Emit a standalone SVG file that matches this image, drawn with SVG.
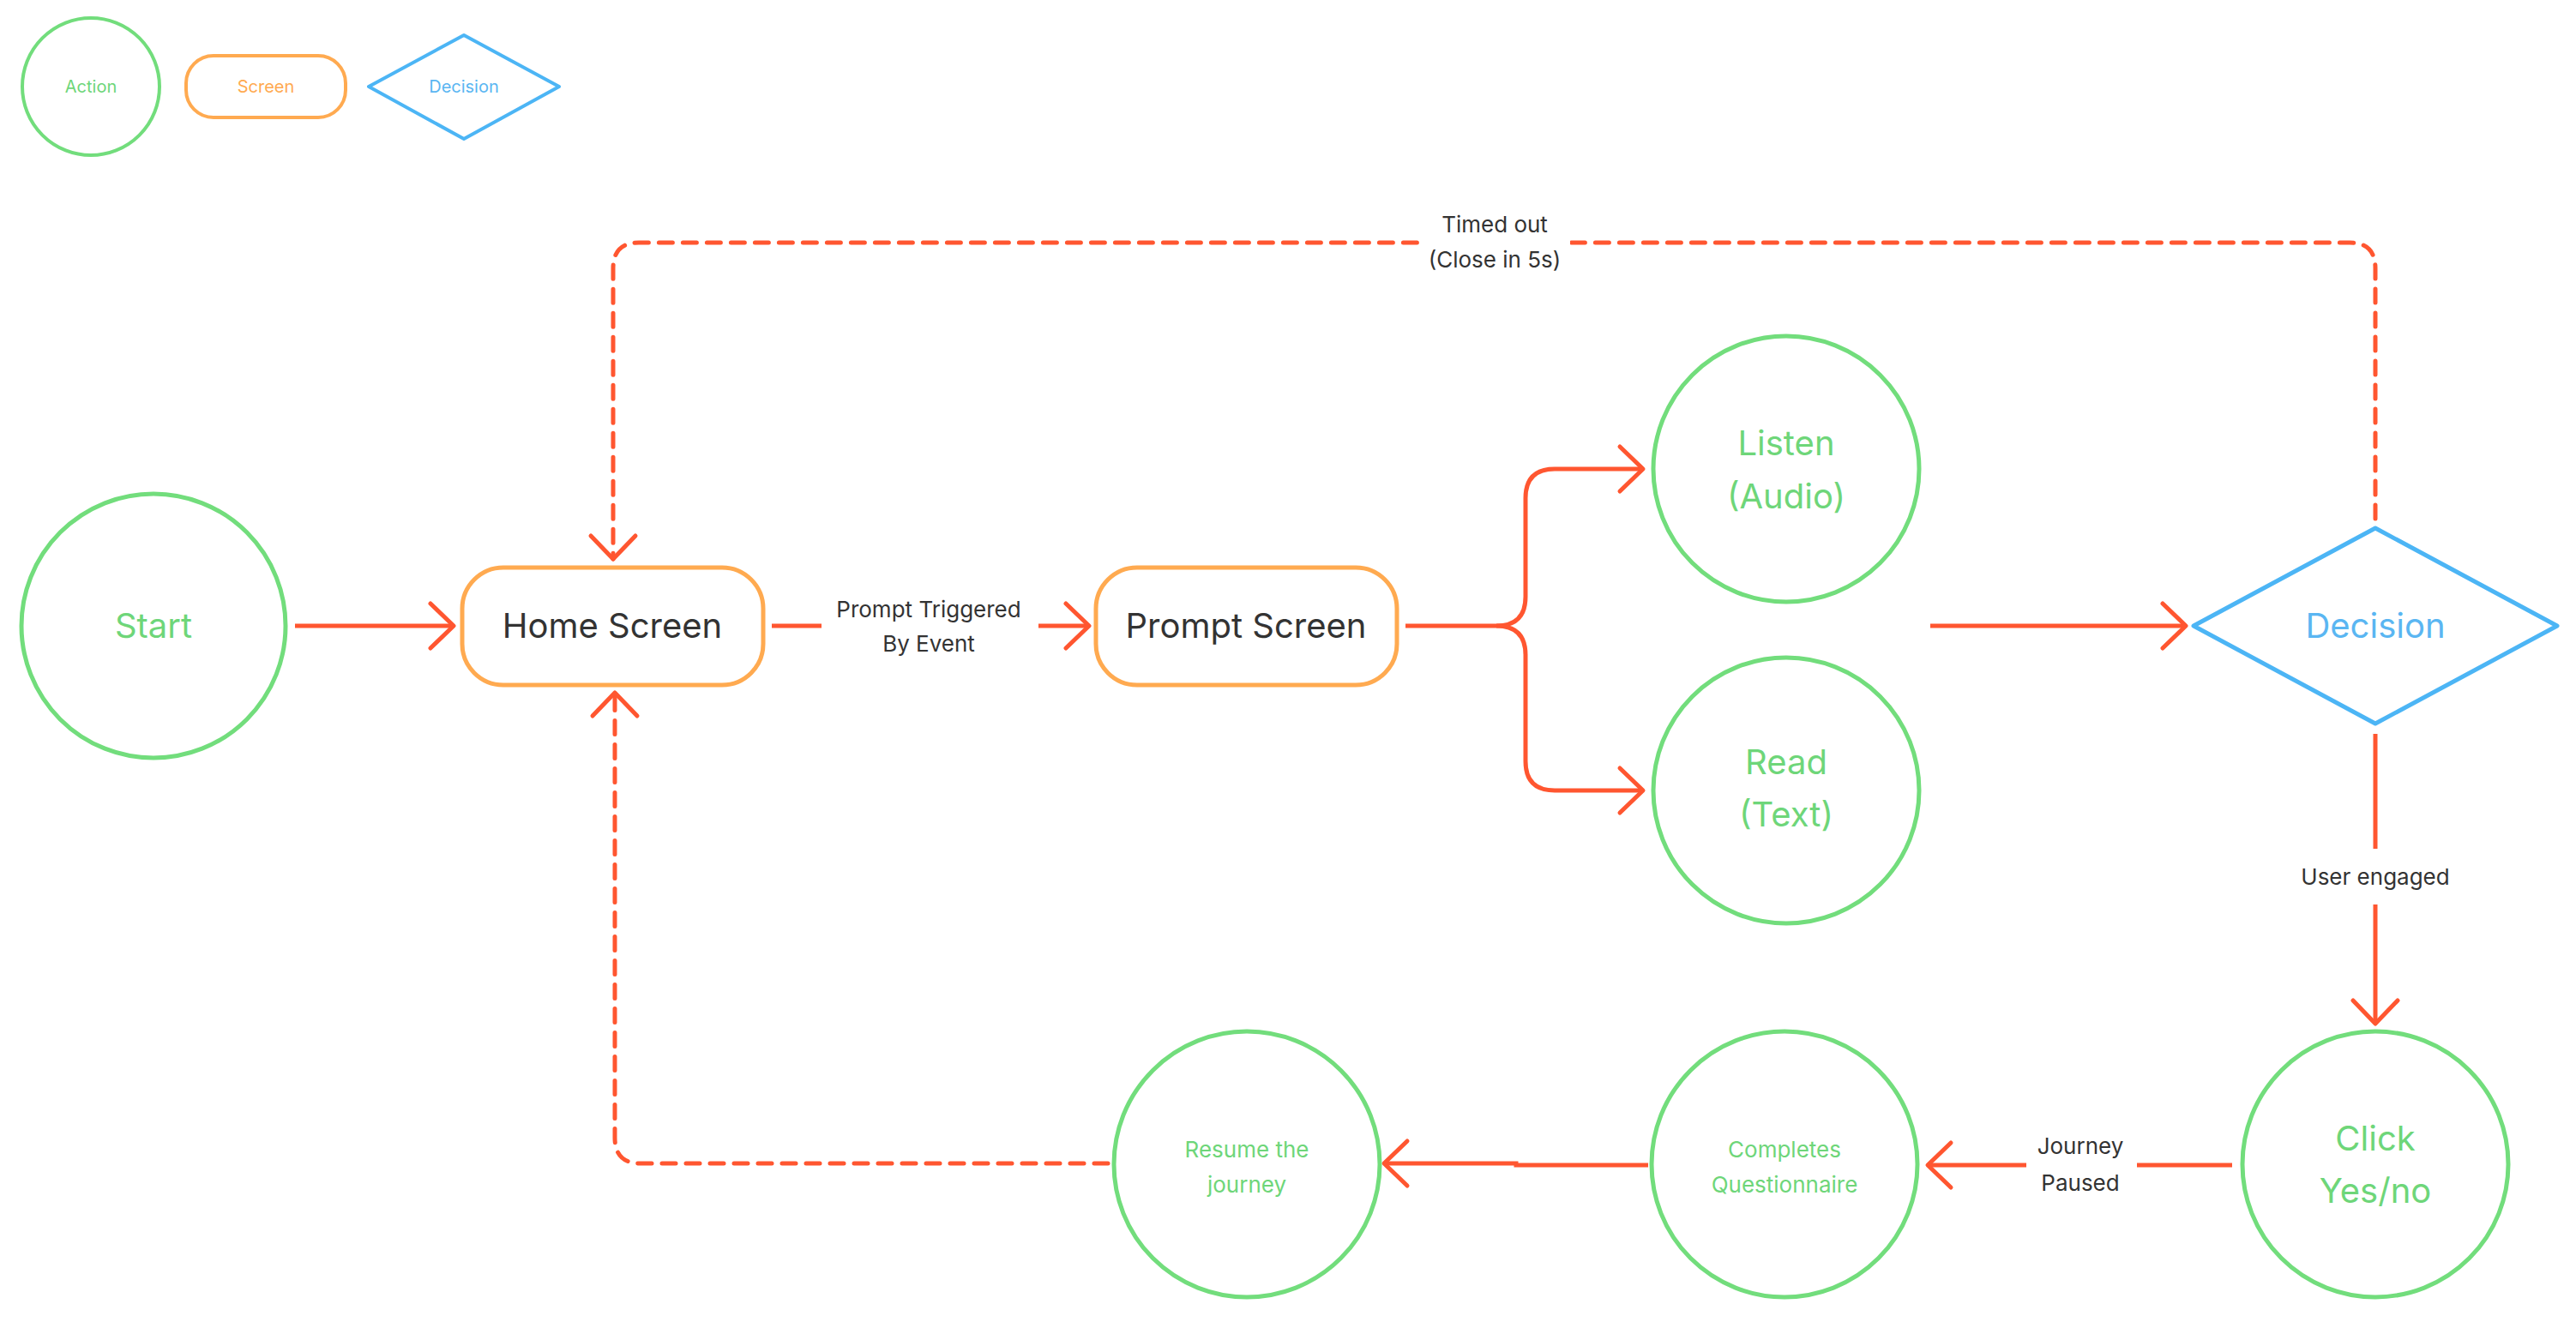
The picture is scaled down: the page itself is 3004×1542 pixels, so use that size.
<svg xmlns="http://www.w3.org/2000/svg" width="3004" height="1542" viewBox="0 0 3004 1542">
<style>
.bg{fill:#ffffff}
.act{fill:#ffffff;stroke:#72DD7C;stroke-width:5}
.scr{fill:#ffffff;stroke:#FFAA50;stroke-width:5}
.dec{fill:#ffffff;stroke:#4CB5F5;stroke-width:5;stroke-linejoin:round}
.t{font-family:Inter,"Liberation Sans",sans-serif;text-anchor:middle}
.tg{fill:#6ED679}
.to{fill:#FFAA50}
.tb{fill:#5AB6F2}
.td{fill:#333333}
.big{font-size:40px}
.sm{font-size:26px}
.lg{font-size:20px}
.lbl{font-size:26px;fill:#333333}
.c{fill:none;stroke:#FF5630;stroke-width:5}
.dash{stroke-dasharray:16 12;stroke-linecap:round}
.lbg{fill:#ffffff}
</style>
<defs>
<marker id="arr" markerUnits="userSpaceOnUse" viewBox="0 0 40 60" markerWidth="40" markerHeight="60" refX="31" refY="30" orient="auto">
<path d="M4,4 L31,30 L4,56" fill="none" stroke="#FF5630" stroke-width="5" stroke-linecap="round" stroke-linejoin="round"/>
</marker>
</defs>
<rect class="bg" x="0" y="0" width="3004" height="1542"/>

<g id="legend">
<g id="legend-action">
<circle class="act" cx="106" cy="101" r="80" style="stroke-width:4"/>
<text class="t tg lg" x="106" y="108">Action</text>
</g>
<g id="legend-screen">
<rect class="scr" x="217" y="65" width="186" height="72" rx="32" style="stroke-width:4"/>
<text class="t to lg" x="310" y="108">Screen</text>
</g>
<g id="legend-decision">
<polygon class="dec" points="430,101 541,41 652,101 541,162" style="stroke-width:4"/>
<text class="t tb lg" x="541" y="108">Decision</text>
</g>
</g>

<g id="connectors">
<path class="c" d="M344 730 H529" marker-end="url(#arr)"/>
<path class="c" d="M900 730 H958"/>
<path class="c" d="M1211 730 H1270" marker-end="url(#arr)"/>
<path class="c" d="M1639 730 H1745 Q1779 730 1779 696 V581 Q1779 547 1813 547 H1916" marker-end="url(#arr)"/>
<path class="c" d="M1745 730 Q1779 730 1779 764 V888 Q1779 922 1813 922 H1916" marker-end="url(#arr)"/>
<path class="c" d="M2251 730 H2549" marker-end="url(#arr)"/>
<path class="c dash" d="M2770 605 V313 Q2770 283 2740 283 H745 Q715 283 715 313 V652" marker-end="url(#arr)"/>
<path class="c" d="M2770 856 V990"/>
<path class="c" d="M2770 1055 V1194" marker-end="url(#arr)"/>
<path class="c" d="M2603 1359 H2492"/>
<path class="c" d="M2363 1359 H2248" marker-end="url(#arr)"/>
<path class="c" d="M1922 1359 H1768 V1357 H1614" marker-end="url(#arr)"/>
<path class="c dash" d="M1292 1357 H747 Q717 1357 717 1327 V808" marker-end="url(#arr)"/>
<g id="labels">
<rect class="lbg" x="1655" y="274" width="176" height="18"/>
<text class="t lbl" x="1743" y="271">Timed out</text>
<text class="t lbl" x="1743" y="312">(Close in 5s)</text>
<text class="t lbl" x="1083" y="720">Prompt Triggered</text>
<text class="t lbl" x="1083" y="760">By Event</text>
<text class="t lbl" x="2770" y="1032">User engaged</text>
<text class="t lbl" x="2426" y="1346">Journey</text>
<text class="t lbl" x="2426" y="1389">Paused</text>
</g>
</g>

<g id="start">
<circle class="act" cx="179" cy="730" r="154"/>
<text class="t tg big" x="179" y="744">Start</text>
</g>
<g id="home-screen">
<rect class="scr" x="539" y="662" width="351" height="137" rx="48"/>
<text class="t td big" x="714" y="744">Home Screen</text>
</g>
<g id="prompt-screen">
<rect class="scr" x="1278" y="662" width="351" height="137" rx="48"/>
<text class="t td big" x="1453" y="744">Prompt Screen</text>
</g>
<g id="listen">
<circle class="act" cx="2083" cy="547" r="155"/>
<text class="t tg big" x="2083" y="531">Listen</text>
<text class="t tg big" x="2083" y="593">(Audio)</text>
</g>
<g id="read">
<circle class="act" cx="2083" cy="922" r="155"/>
<text class="t tg big" x="2083" y="903">Read</text>
<text class="t tg big" x="2083" y="964">(Text)</text>
</g>
<g id="decision">
<polygon class="dec" points="2558,730 2770,616 2982,730 2770,844"/>
<text class="t tb big" x="2770" y="744">Decision</text>
</g>
<g id="click">
<circle class="act" cx="2770" cy="1358" r="155"/>
<text class="t tg big" x="2770" y="1342">Click</text>
<text class="t tg big" x="2770" y="1403">Yes/no</text>
</g>
<g id="completes">
<circle class="act" cx="2081" cy="1358" r="155"/>
<text class="t tg sm" x="2081" y="1350">Completes</text>
<text class="t tg sm" x="2081" y="1391">Questionnaire</text>
</g>
<g id="resume">
<circle class="act" cx="1454" cy="1358" r="155"/>
<text class="t tg sm" x="1454" y="1350">Resume the</text>
<text class="t tg sm" x="1454" y="1391">journey</text>
</g>
</svg>
